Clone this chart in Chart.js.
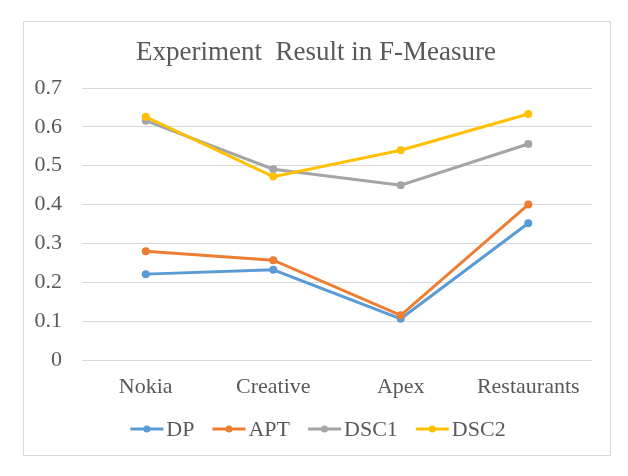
<!DOCTYPE html>
<html>
<head>
<meta charset="utf-8">
<script src="https://cdn.jsdelivr.net/npm/chart.js@4.4.1/dist/chart.umd.min.js"></script>
<style>
  html, body { margin: 0; padding: 0; background: #fff; }
  #wrap { width: 628px; height: 476px; position: relative; }
</style>
</head>
<body>
<div id="wrap"><canvas id="grafica"></canvas></div>
<script>
const categorias = ['Nokia', 'Creative', 'Apex', 'Restaurants'];
const dp   = [0.221, 0.232, 0.106, 0.352];
const apt  = [0.280, 0.257, 0.115, 0.400];
const dsc1 = [0.616, 0.491, 0.450, 0.556];
const dsc2 = [0.626, 0.472, 0.540, 0.633];
const nombresSeries = ['DP', 'APT', 'DSC1', 'DSC2'];
const colores = ['#5B9BD5', '#ED7D31', '#A5A5A5', '#FFC000'];
const titulo = 'Experiment  Result in F-Measure';

const fuente = '"Liberation Serif", "Times New Roman", serif';
const gris = '#595959';

// marco, titulo y leyenda al estilo Excel
const marcoPlugin = {
    id: 'marco',
    afterDraw(chart) {
        const c = chart.ctx;
        c.save();
        c.strokeStyle = '#d9d9d9';
        c.lineWidth = 1;
        c.strokeRect(23.5, 21.5, 587, 434);

        c.fillStyle = gris;
        c.font = '27px ' + fuente;
        c.textAlign = 'center';
        c.textBaseline = 'middle';
        c.fillText(titulo, 316, 53);

        c.font = '22px ' + fuente;
        c.textAlign = 'left';
        const lineaW = 33, gap = 3, sep = 18;
        const items = chart.data.datasets.map(d => ({ t: d.label, col: d.borderColor, w: c.measureText(d.label).width }));
        let total = items.reduce((s, it) => s + lineaW + gap + it.w, 0) + sep * (items.length - 1);
        let x = 318 - total / 2;
        const y = 429;
        items.forEach(it => {
            c.strokeStyle = it.col;
            c.lineWidth = 3;
            c.beginPath();
            c.moveTo(x, y);
            c.lineTo(x + lineaW, y);
            c.stroke();
            c.fillStyle = it.col;
            c.beginPath();
            c.arc(x + lineaW / 2, y, 3.5, 0, Math.PI * 2);
            c.fill();
            c.fillStyle = gris;
            c.fillText(it.t, x + lineaW + gap, y + 1);
            x += lineaW + gap + it.w + sep;
        });
        c.restore();
    }
};

const series = [dp, apt, dsc1, dsc2];

new Chart(document.getElementById('grafica'), {
    type: 'line',
    data: {
        labels: categorias,
        datasets: series.map((vals, i) => ({
            label: nombresSeries[i],
            data: vals,
            borderColor: colores[i],
            backgroundColor: colores[i],
            pointBackgroundColor: colores[i],
            pointBorderColor: colores[i],
            borderWidth: 3,
            pointRadius: 4,
            pointBorderWidth: 0,
            tension: 0,
            order: series.length - i
        }))
    },
    options: {
        responsive: true,
        maintainAspectRatio: false,
        animation: false,
        layout: { padding: { left: 23, right: 36, top: 88, bottom: 71 } },
        plugins: {
            legend: { display: false },
            title: { display: false },
            tooltip: { enabled: false }
        },
        scales: {
            x: {
                offset: true,
                grid: { display: false, drawTicks: false },
                border: { display: false },
                ticks: { color: gris, font: { family: fuente, size: 22 }, padding: 14, maxRotation: 0 },
                afterFit: s => { s.height = 45; }
            },
            y: {
                min: 0,
                max: 0.7,
                grid: { color: '#d9d9d9', drawTicks: false },
                border: { display: false },
                ticks: { stepSize: 0.1, color: gris, font: { family: fuente, size: 22 }, padding: 20 },
                afterFit: s => { s.width = 59; }
            }
        }
    },
    plugins: [marcoPlugin]
});
</script>
</body>
</html>
